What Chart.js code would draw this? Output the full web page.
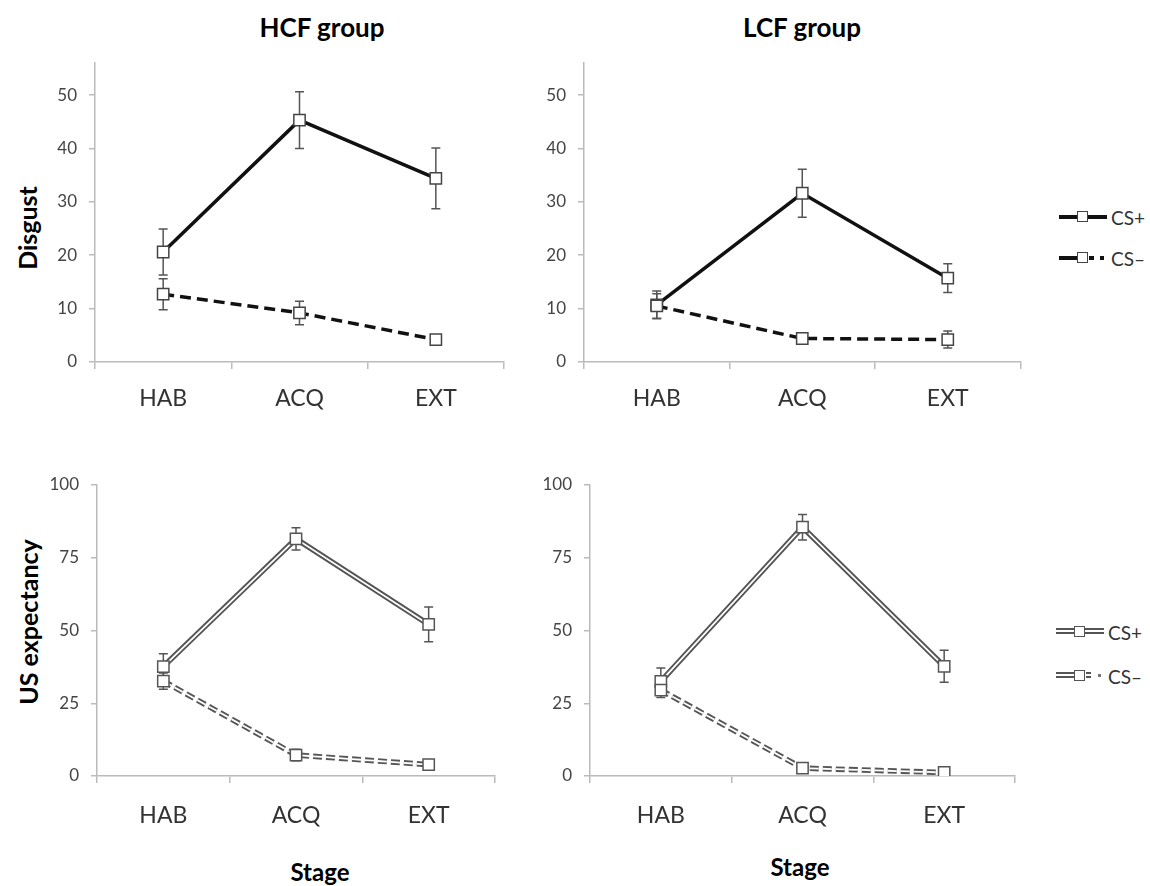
<!DOCTYPE html>
<html>
<head>
<meta charset="utf-8">
<script src="https://cdn.jsdelivr.net/npm/chart.js@4.4.1/dist/chart.umd.min.js"></script>
<style>
    body { margin: 0; background: #fff; width: 1150px; height: 886px; position: relative; overflow: hidden; font-family: Lato, "Open Sans", sans-serif; }
    .panel { position: absolute; }
    .txt { position: absolute; font-weight: bold; color: #000; white-space: nowrap; transform: translate(-50%, -50%); }
    .rot { transform: translate(-50%, -50%) rotate(-90deg); }
    .leg { position: absolute; display: flex; align-items: center; font-size: 19px; color: #333; height: 20px; }
    .sample { position: relative; width: 50px; height: 14px; margin-right: 2px; }
    .sample span { position: absolute; display: block; }
    .box { width: 9px; height: 9px; border: 1.5px solid #444; background: #fff; top: 1px; }
    .dbl { height: 2px; border-top: 2px solid #555; border-bottom: 2px solid #555; }
</style>
</head>
<body>

<div class="txt" style="left:322px;top:27px;font-size:26px">HCF group</div>
<div class="txt" style="left:802px;top:27px;font-size:26px">LCF group</div>
<div class="txt rot" style="left:27px;top:228px;font-size:25px">Disgust</div>
<div class="txt rot" style="left:28px;top:622px;font-size:25px">US expectancy</div>
<div class="txt" style="left:320px;top:871px;font-size:24px">Stage</div>
<div class="txt" style="left:800px;top:866px;font-size:24px">Stage</div>

<div class="panel" style="left:0;top:50px;width:520px;height:370px"><canvas id="c1"></canvas></div>
<div class="panel" style="left:520px;top:50px;width:510px;height:370px"><canvas id="c2"></canvas></div>
<div class="panel" style="left:0;top:470px;width:520px;height:366px"><canvas id="c3"></canvas></div>
<div class="panel" style="left:520px;top:470px;width:510px;height:366px"><canvas id="c4"></canvas></div>

<!-- legende -->
<div class="leg" style="left:1059px;top:207px">
    <div class="sample">
        <span style="left:0;top:5px;width:48px;height:4px;background:#111"></span>
        <span class="box" style="left:18px"></span>
    </div>CS+
</div>
<div class="leg" style="left:1059px;top:248px">
    <div class="sample">
        <span style="left:0;top:5px;width:20px;height:4px;background:#111"></span>
        <span class="box" style="left:18px"></span>
        <span style="left:30px;top:5px;width:5px;height:4px;background:#111"></span>
        <span style="left:41px;top:5px;width:4px;height:4px;background:#111"></span>
    </div>CS&#8211;
</div>
<div class="leg" style="left:1056px;top:622px">
    <div class="sample">
        <span class="dbl" style="left:0;top:3px;width:48px"></span>
        <span class="box" style="left:18px;border-color:#555"></span>
    </div>CS+
</div>
<div class="leg" style="left:1056px;top:666px">
    <div class="sample">
        <span class="dbl" style="left:0;top:3px;width:20px"></span>
        <span class="box" style="left:18px;border-color:#555"></span>
        <span class="dbl" style="left:30px;top:3px;width:5px"></span>
        <span style="left:42px;top:5px;width:3px;height:3px;background:#777"></span>
    </div>CS&#8211;
</div>

<script>
// categorias
const stages = ['HAB', 'ACQ', 'EXT'];

// Disgust, HCF
const hcfDisgustPlus = [20.6, 45.3, 34.4];
const hcfDisgustPlusErr = [4.3, 5.3, 5.7];
const hcfDisgustMinus = [12.7, 9.2, 4.2];
const hcfDisgustMinusErr = [2.9, 2.2, 0.8];

// Disgust, LCF
const lcfDisgustPlus = [10.7, 31.6, 15.7];
const lcfDisgustPlusErr = [2.6, 4.5, 2.7];
const lcfDisgustMinus = [10.5, 4.4, 4.2];
const lcfDisgustMinusErr = [2.3, 0.8, 1.6];

// US expectancy, HCF
const hcfUsPlus = [37.6, 81.5, 52.1];
const hcfUsPlusErr = [4.4, 3.8, 6.0];
const hcfUsMinus = [32.6, 7.2, 3.9];
const hcfUsMinusErr = [2.8, 2.0, 1.0];

// US expectancy, LCF
const lcfUsPlus = [32.5, 85.5, 37.7];
const lcfUsPlusErr = [4.6, 4.4, 5.5];
const lcfUsMinus = [29.5, 2.7, 1.2];
const lcfUsMinusErr = [2.5, 1.0, 0.6];

const disgustTicks = [0, 10, 20, 30, 40, 50];
const usTicks = [0, 25, 50, 75, 100];

/*** barras de error ***/
const errorBars = {
    id: 'errorBars',
    beforeDatasetsDraw(chart) {
        let ctx = chart.ctx;
        let y = chart.scales.y;
        chart.data.datasets.forEach(function (ds, i) {
            if (!ds.errors) return;
            let meta = chart.getDatasetMeta(i);
            ctx.save();
            ctx.strokeStyle = '#555';
            ctx.lineWidth = 1.5;
            meta.data.forEach(function (pt, j) {
                let top = y.getPixelForValue(ds.data[j] + ds.errors[j]);
                let bot = y.getPixelForValue(ds.data[j] - ds.errors[j]);
                ctx.beginPath();
                ctx.moveTo(pt.x, top); ctx.lineTo(pt.x, bot);
                ctx.moveTo(pt.x - 4.5, top); ctx.lineTo(pt.x + 4.5, top);
                ctx.moveTo(pt.x - 4.5, bot); ctx.lineTo(pt.x + 4.5, bot);
                ctx.stroke();
            });
            ctx.restore();
        });
    }
};

const marker = {
    pointStyle: 'rect',
    pointRadius: 8,
    pointHoverRadius: 8,
    pointBackgroundColor: '#fff',
    pointBorderColor: '#444',
    pointBorderWidth: 1.5
};

function simpleSets(plus, plusErr, minus, minusErr) {
    return [
        Object.assign({ data: plus, errors: plusErr, borderColor: '#111', borderWidth: 3.5, order: 1 }, marker),
        Object.assign({ data: minus, errors: minusErr, borderColor: '#111', borderWidth: 3.5, borderDash: [11, 6], order: 0 }, marker)
    ];
}

// linea doble: gris por fuera, blanco por dentro
function doubleSets(plus, plusErr, minus, minusErr) {
    return [
        Object.assign({ data: minus, errors: minusErr, borderColor: '#fff', borderWidth: 1.8, borderDash: [9, 4], order: 0 }, marker, { pointBorderColor: '#555' }),
        { data: minus, borderColor: '#555', borderWidth: 5.5, borderDash: [9, 4], pointRadius: 0, order: 1 },
        Object.assign({ data: plus, errors: plusErr, borderColor: '#fff', borderWidth: 1.8, order: 2 }, marker, { pointBorderColor: '#555' }),
        { data: plus, borderColor: '#555', borderWidth: 5.5, pointRadius: 0, order: 3 }
    ];
}

function noPad(scale) {
    scale.paddingTop = 0;
    scale.paddingBottom = 0;
    scale.paddingLeft = 0;
    scale.paddingRight = 0;
}

function renderPanel(el, datasets, yMax, tickList, box) {
    let ctx = document.getElementById(el).getContext('2d');
    return new Chart(ctx, {
        type: 'line',
        data: { labels: stages, datasets: datasets },
        options: {
            responsive: true,
            maintainAspectRatio: false,
            animation: false,
            layout: { padding: { top: box.padTop, right: box.padRight, left: 0, bottom: 0 } },
            plugins: { legend: { display: false }, tooltip: { enabled: false } },
            elements: { line: { tension: 0 } },
            scales: {
                x: {
                    offset: true,
                    grid: { offset: true, drawOnChartArea: false, drawTicks: true, tickLength: 7, color: '#bbb', lineWidth: 1.5 },
                    border: { display: true, color: '#bbb', width: 1.5 },
                    ticks: { color: '#333', padding: box.xPad, font: { family: 'Lato', size: 23 } },
                    afterFit: function (scale) { scale.height = box.xh; noPad(scale); }
                },
                y: {
                    min: 0,
                    max: yMax,
                    afterBuildTicks: function (scale) {
                        scale.ticks = tickList.map(function (v) { return { value: v }; });
                    },
                    grid: { drawOnChartArea: false, drawTicks: true, tickLength: 6, color: '#bbb', lineWidth: 1.5 },
                    border: { display: true, color: '#bbb', width: 1.5 },
                    ticks: { color: '#444', padding: 12, font: { family: 'Lato', size: 17 } },
                    afterFit: function (scale) { scale.width = box.yw; noPad(scale); }
                }
            }
        },
        plugins: [errorBars]
    });
}

renderPanel('c1', simpleSets(hcfDisgustPlus, hcfDisgustPlusErr, hcfDisgustMinus, hcfDisgustMinusErr), 56, disgustTicks,
    { yw: 95, xh: 58, padTop: 13, padRight: 16, xPad: 16 });
renderPanel('c2', simpleSets(lcfDisgustPlus, lcfDisgustPlusErr, lcfDisgustMinus, lcfDisgustMinusErr), 56, disgustTicks,
    { yw: 64, xh: 58, padTop: 13, padRight: 9, xPad: 16 });
renderPanel('c3', doubleSets(hcfUsPlus, hcfUsPlusErr, hcfUsMinus, hcfUsMinusErr), 100, usTicks,
    { yw: 97, xh: 60, padTop: 15, padRight: 25, xPad: 19 });
renderPanel('c4', doubleSets(lcfUsPlus, lcfUsPlusErr, lcfUsMinus, lcfUsMinusErr), 100, usTicks,
    { yw: 70, xh: 60, padTop: 15, padRight: 15, xPad: 19 });
</script>
</body>
</html>
